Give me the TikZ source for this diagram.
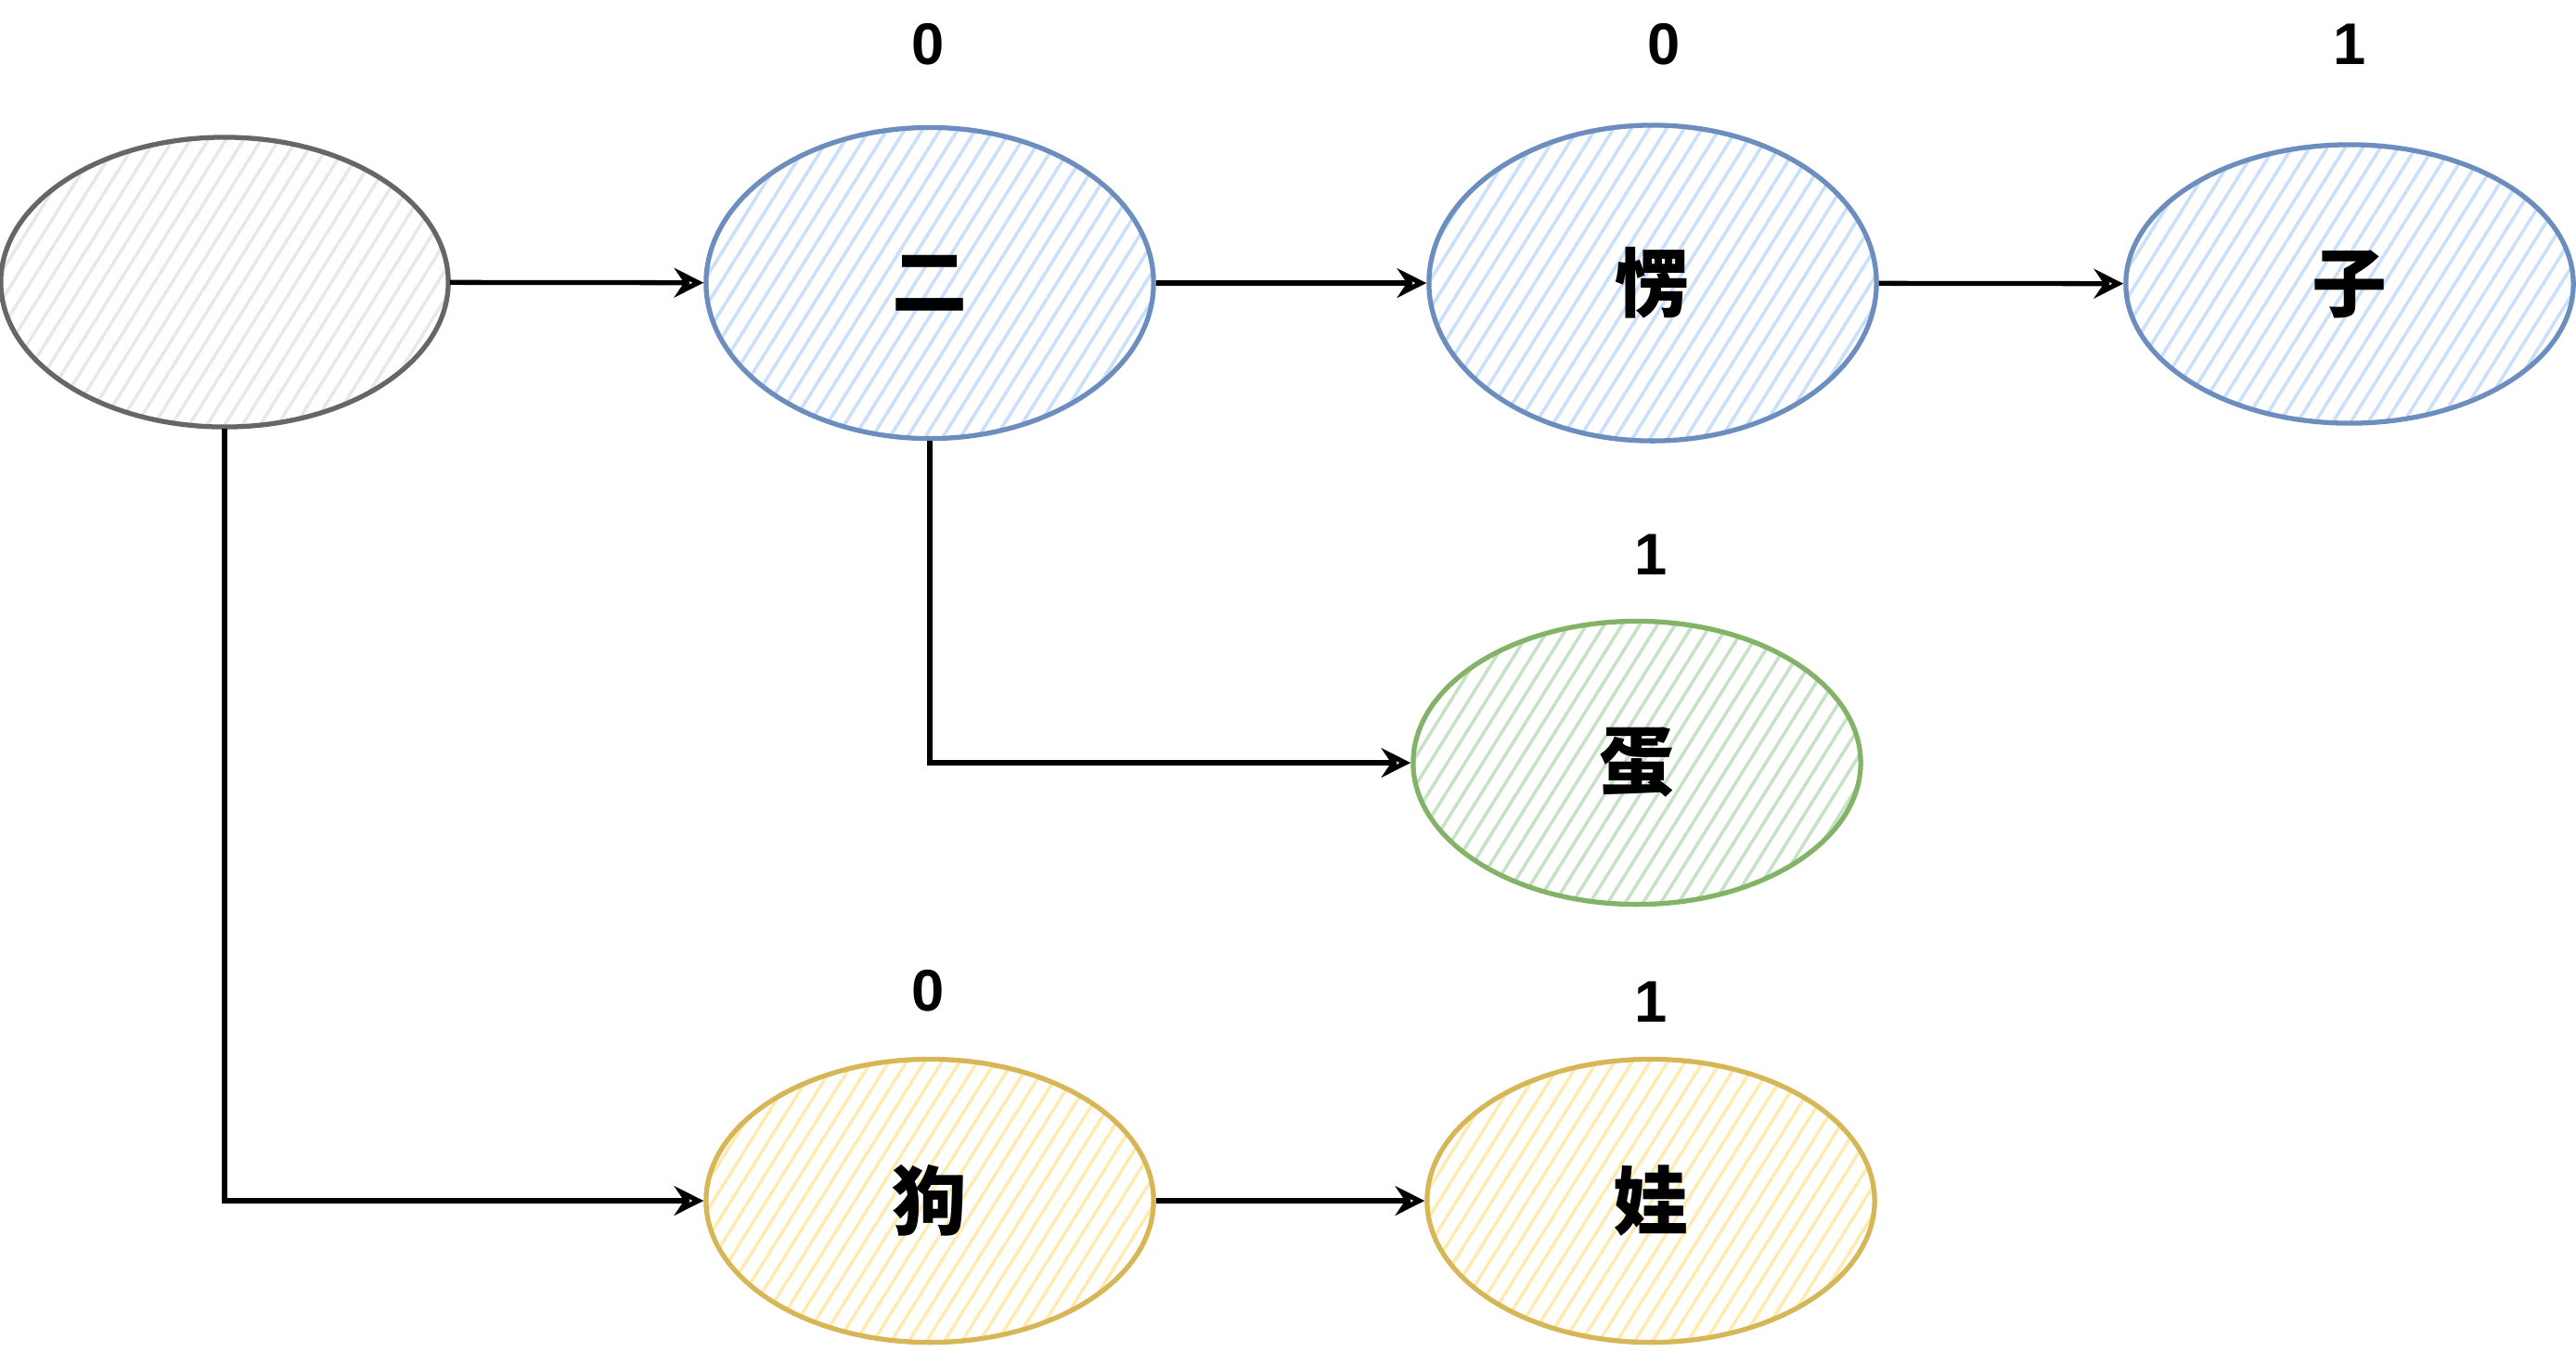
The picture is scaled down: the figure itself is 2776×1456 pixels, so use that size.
\documentclass[tikz,border=0pt]{standalone}
\usepackage{fontspec}
\setmainfont{Liberation Sans}
\newfontfamily\cjk{Noto Sans CJK SC}
\usetikzlibrary{arrows.meta,positioning,shapes.geometric,patterns.meta}

\definecolor{grayline}{HTML}{666666}
\definecolor{grayfill}{HTML}{E8E8E8}
\definecolor{blueline}{HTML}{6C8EBF}
\definecolor{bluefill}{HTML}{C9DFFA}
\definecolor{greenline}{HTML}{82B366}
\definecolor{greenfill}{HTML}{C6E2C4}
\definecolor{yellowline}{HTML}{D6B656}
\definecolor{yellowfill}{HTML}{FFEBB0}

\begin{document}
\begin{tikzpicture}[x=0.01cm,y=-0.01cm]
\tikzset{
  trienode/.style={ellipse, draw, line width=1.5pt, inner sep=0pt,
    minimum width=4.82cm, minimum height=3.05cm,
    font=\cjk\bfseries\fontsize{23}{23}\selectfont},
  hatch/.style={pattern={Lines[angle=58, distance=4.6pt, line width=1pt]}, pattern color=#1},
  graynode/.style={trienode, draw=grayline, hatch=grayfill},
  bluenode/.style={trienode, draw=blueline, hatch=bluefill},
  greennode/.style={trienode, draw=greenline, hatch=greenfill},
  yellownode/.style={trienode, draw=yellowline, hatch=yellowfill},
  endmark/.style={font=\bfseries\fontsize{18}{18}\selectfont},
  link/.style={draw, line width=1.5pt, -{Stealth[open, length=9pt, width=9pt, inset=3pt]}}
}
\useasboundingbox (0,0) rectangle (2776,1456);
% trie nodes
\node [graynode, minimum height=3.12cm] (root) at (242,304) {};
\node [bluenode, minimum height=3.35cm] (er) at (1002,305) {二};
\node [bluenode, minimum height=3.4cm] (leng) at (1781,305) {愣};
\node [bluenode, minimum height=3.0cm] (zi) at (2532,306) {子};
\node [greennode] (dan) at (1764,822) {蛋};
\node [yellownode] (gou) at (1002,1294) {狗};
\node [yellownode] (wa) at (1779,1294) {娃};
% end flags
\node [endmark] (erflag) at (1000,48) {0};
\node [endmark] (lengflag) at (1793,48) {0};
\node [endmark] (ziflag) at (2532,48) {1};
\node [endmark] (danflag) at (1779,598) {1};
\node [endmark] (gouflag) at (1000,1068) {0};
\node [endmark] (waflag) at (1779,1080) {1};
% links
\path [link] (root) -- (er);
\path [link] (er) -- (leng);
\path [link] (leng) -- (zi);
\path [link] (er.south) |- (dan.west);
\path [link] (root.south) |- (gou.west);
\path [link] (gou) -- (wa);
\end{tikzpicture}
\end{document}
